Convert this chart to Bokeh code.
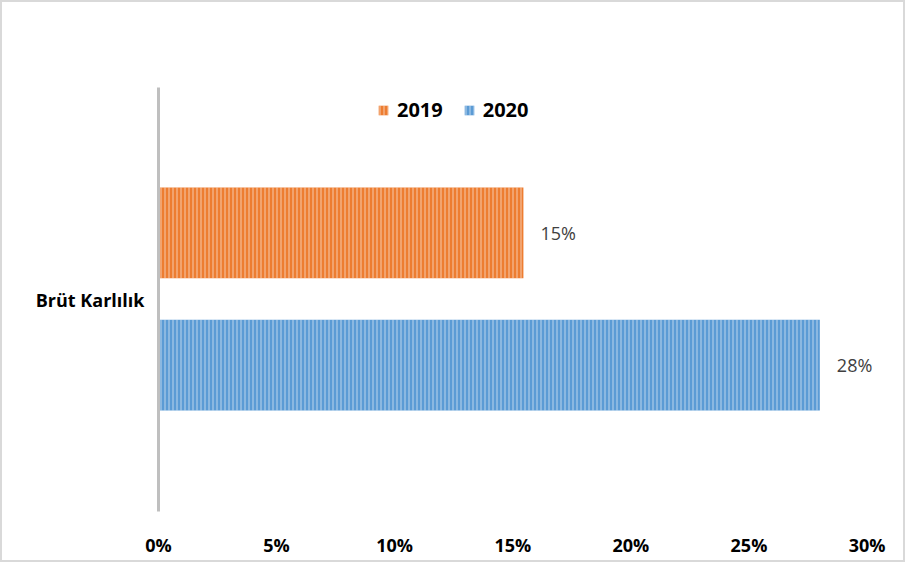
from bokeh.plotting import figure
from bokeh.models import (FactorRange, Range1d, CategoricalAxis, FixedTicker, CategoricalScale,
                          PrintfTickFormatter, ColumnDataSource, Legend, LegendItem)
from bokeh.transform import dodge
from bokeh.core.properties import value
from bokeh.embed import file_html
from bokeh.resources import INLINE

category = ["Brüt Karlılık"]
val_2019 = [15.45]
val_2020 = [28.0]
lbl_2019 = ["15%"]
lbl_2020 = ["28%"]
x_ticks = [0, 5, 10, 15, 20, 25, 30]

FONT = "Open Sans"

p = figure(width=905, height=562, output_backend="svg", toolbar_location=None,
           y_range=FactorRange(factors=category), x_range=Range1d(0, 31.5),
           y_axis_location=None, x_axis_location="below",
           min_border_left=156, min_border_right=5, min_border_top=85, min_border_bottom=53)
p.styles = {"border": "2px solid #d9d9d9", "box-sizing": "border-box"}
p.outline_line_color = None
p.xgrid.grid_line_color = None
p.ygrid.grid_line_color = None
p.background_fill_color = "white"
p.border_fill_color = "white"

# x axis
xa = p.xaxis[0]
xa.ticker = FixedTicker(ticks=x_ticks)
xa.formatter = PrintfTickFormatter(format="%d%%")
xa.axis_line_color = None
xa.major_tick_line_color = None
xa.minor_tick_line_color = None
xa.major_label_text_font = FONT
xa.major_label_text_font_style = "bold"
xa.major_label_text_font_size = "18px"
xa.major_label_text_color = "black"
xa.major_label_standoff = 15

# y axes: an edge axis whose two (blank) factors sit on the frame's edges
p.extra_y_ranges = {"edge": FactorRange(factors=[" ", "  "], range_padding=-0.5,
                                        range_padding_units="absolute")}
p.extra_y_scales = {"edge": CategoricalScale()}
edge = CategoricalAxis(y_range_name="edge",
                       axis_line_color="#bfbfbf", axis_line_width=3,
                       major_tick_line_color="#bfbfbf", major_tick_line_width=3,
                       major_tick_in=0, major_tick_out=6,
                       major_label_text_font_size="2px", major_label_standoff=0)
p.add_layout(edge, "left")
cat = CategoricalAxis(axis_line_color=None, major_tick_line_color=None,
                      major_label_text_font=FONT, major_label_text_font_style="bold",
                      major_label_text_font_size="18px", major_label_text_color="black",
                      major_label_standoff=8)
p.add_layout(cat, "left")

src = ColumnDataSource(dict(cat=category, v19=val_2019, v20=val_2020, l19=lbl_2019, l20=lbl_2020))

r19 = p.hbar(y=dodge("cat", 0.157, range=p.y_range), left=0, right="v19", height=0.214, source=src,
             fill_color="#ED7D31", line_color=None, hatch_pattern="vertical_line",
             hatch_color="white", hatch_alpha=0.45, hatch_scale=4, hatch_weight=1.3)
r20 = p.hbar(y=dodge("cat", -0.155, range=p.y_range), left=0, right="v20", height=0.214, source=src,
             fill_color="#5B9BD5", line_color=None, hatch_pattern="vertical_line",
             hatch_color="white", hatch_alpha=0.45, hatch_scale=4, hatch_weight=1.3)

p.text(x="v19", y=dodge("cat", 0.157, range=p.y_range), text="l19", source=src, x_offset=17,
       text_baseline="middle", text_align="left", text_font=value(FONT),
       text_font_size="18px", text_color="#404040")
p.text(x="v20", y=dodge("cat", -0.155, range=p.y_range), text="l20", source=src, x_offset=17,
       text_baseline="middle", text_align="left", text_font=value(FONT),
       text_font_size="18px", text_color="#404040")

legend = Legend(items=[LegendItem(label="2019", renderers=[r19]),
                       LegendItem(label="2020", renderers=[r20])],
                orientation="horizontal", location=(219, 388),
                glyph_width=12, glyph_height=12, label_standoff=8, spacing=20,
                padding=0, margin=0, border_line_color=None, background_fill_alpha=0,
                label_text_font=FONT, label_text_font_style="bold",
                label_text_font_size="20px", label_text_color="black")
p.add_layout(legend, "center")

open("out.html", "w").write(file_html(p, INLINE))
